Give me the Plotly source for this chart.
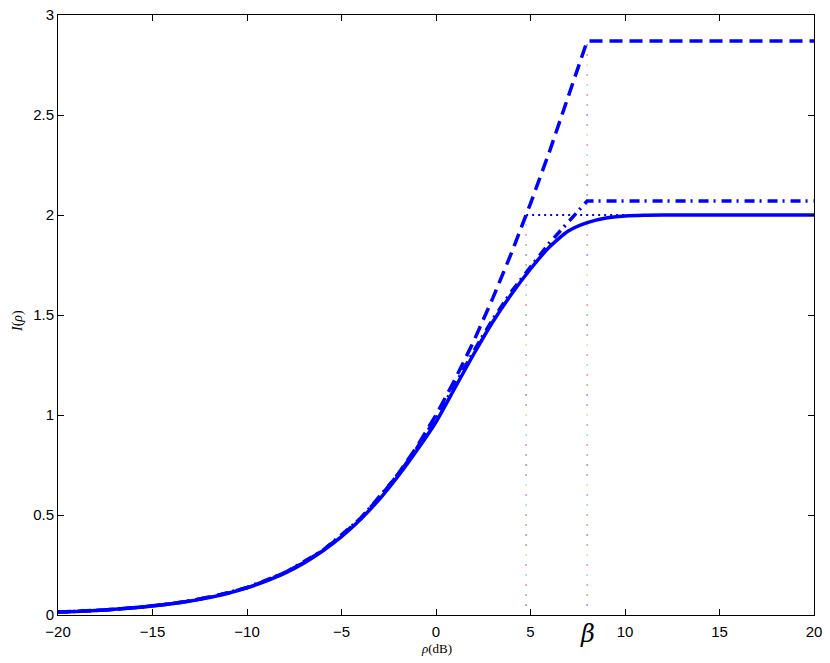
import numpy as np
import plotly.graph_objects as go

# ---- data ----
snr_db = list(range(-20, 21))  # rho (dB)

# solid: I(rho)
solid_I = [0.0144, 0.0181, 0.0227, 0.0285, 0.0357, 0.0448, 0.0561, 0.070, 0.087, 0.109,
           0.136, 0.169, 0.209, 0.259, 0.320, 0.392, 0.478, 0.578, 0.695, 0.825,
           0.965, 1.135, 1.305, 1.465, 1.605, 1.730, 1.840, 1.920, 1.962, 1.985,
           1.995, 1.999, 2.0, 2.0, 2.0, 2.0, 2.0, 2.0, 2.0, 2.0, 2.0]

# dashed: upper bound, flat after beta
dashed_x = [-20, -19, -18, -17, -16, -15, -14, -13, -12, -11, -10, -9, -8, -7, -6, -5, -4,
            -3, -2, -1, 0, 1, 2, 3, 4, 5, 6, 7, 8, 20]
dashed_I = [0.0144, 0.0181, 0.0227, 0.0285, 0.0358, 0.0449, 0.0563, 0.0705, 0.0883, 0.110,
            0.1375, 0.171, 0.212, 0.262, 0.323, 0.396, 0.483, 0.586, 0.706, 0.843,
            1.0, 1.176, 1.37, 1.583, 1.812, 2.057, 2.316, 2.588, 2.87, 2.87]

# dash-dot: second bound
dashdot_x = [-20, -18, -16, -14, -12, -10, -8, -6, -4, -2, -1, 0, 1, 2, 3, 4, 4.77, 6, 7, 8, 20]
dashdot_I = [0.0144, 0.0227, 0.0358, 0.0562, 0.088, 0.137, 0.211, 0.322, 0.481, 0.702,
             0.836, 0.985, 1.15, 1.32, 1.478, 1.618, 1.712, 1.86, 1.965, 2.07, 2.07]

# dotted horizontal at I = 2
hline_x = [4.77, 20]
hline_I = [2.0, 2.0]

rho_star = 4.77   # dB
beta = 8.0        # dB
rho_star_top = 1.98
beta_top = 2.87

x_ticks = [-20, -15, -10, -5, 0, 5, 10, 15, 20]
y_ticks = [0, 0.5, 1, 1.5, 2, 2.5, 3]
y_tick_text = ["0", "0.5", "1", "1.5", "2", "2.5", "3"]

BLUE = "rgb(0,0,255)"
matlab_colors = ["rgb(0,0,255)", "rgb(0,128,0)", "rgb(255,0,0)", "rgb(0,191,191)",
                 "rgb(191,0,191)", "rgb(191,191,0)", "rgb(64,64,64)"]

fig = go.Figure()

# multicoloured vertical guide dots
for xv, top in [(rho_star, rho_star_top), (beta, beta_top)]:
    ys = np.arange(0.05, top, 0.05)
    cols = [matlab_colors[i % 7] for i in range(len(ys))]
    fig.add_trace(go.Scatter(x=[xv] * len(ys), y=ys, mode="markers",
                             marker=dict(size=2, color=cols, opacity=0.45, line=dict(width=0)),
                             hoverinfo="skip", showlegend=False))

fig.add_trace(go.Scatter(x=hline_x, y=hline_I, mode="lines",
                         line=dict(color=BLUE, width=2, dash="2px,4px"), showlegend=False))
fig.add_trace(go.Scatter(x=dashed_x, y=dashed_I, mode="lines",
                         line=dict(color=BLUE, width=3.5, dash="13px,7px"), showlegend=False))
fig.add_trace(go.Scatter(x=dashdot_x, y=dashdot_I, mode="lines",
                         line=dict(color=BLUE, width=3.5, dash="10px,5px,2px,6px"), showlegend=False))
fig.add_trace(go.Scatter(x=snr_db, y=solid_I, mode="lines",
                         line=dict(color=BLUE, width=3.5, shape="spline", smoothing=0.6),
                         showlegend=False))

axis_common = dict(showgrid=False, zeroline=False, showline=True, linecolor="black",
                   linewidth=1, mirror="ticks", ticks="inside", ticklen=6,
                   tickcolor="black", tickwidth=1, automargin=False,
                   tickfont=dict(family="Liberation Sans, Arial", size=15, color="black"))

fig.update_xaxes(range=[-20, 20], tickvals=x_ticks,
                 ticktext=[str(v).replace("-", "\u2212") for v in x_ticks],
                 ticklabelstandoff=3, **axis_common)
fig.update_yaxes(range=[0, 3], tickvals=y_ticks, ticktext=y_tick_text, **axis_common)

fig.add_annotation(x=beta, y=0, xref="x", yref="paper", yanchor="middle", yshift=-19,
                   text="<i>β</i>", showarrow=False,
                   font=dict(family="DejaVu Serif, Liberation Serif", size=24, color="black"))
fig.add_annotation(x=0, y=0, xref="x", yref="paper", yanchor="middle", yshift=-33,
                   text="<i>ρ</i>(dB)", showarrow=False,
                   font=dict(family="Liberation Serif, DejaVu Serif", size=13, color="black"))
fig.add_annotation(x=0, y=0.49, xref="paper", yref="paper", xanchor="center", xshift=-40,
                   text="<i>I</i>(<i>ρ</i>)", textangle=-90, showarrow=False,
                   font=dict(family="Liberation Serif, DejaVu Serif", size=14, color="black"))

fig.update_layout(width=830, height=663, autosize=False,
                  margin=dict(l=58, r=16, t=15, b=48, autoexpand=False),
                  plot_bgcolor="white", paper_bgcolor="white")

# remove the browser's default 8px body margin so the figure fills the window
fig.write_html("out.html", config={"displayModeBar": False},
               post_script="document.body.style.margin='0px';")
